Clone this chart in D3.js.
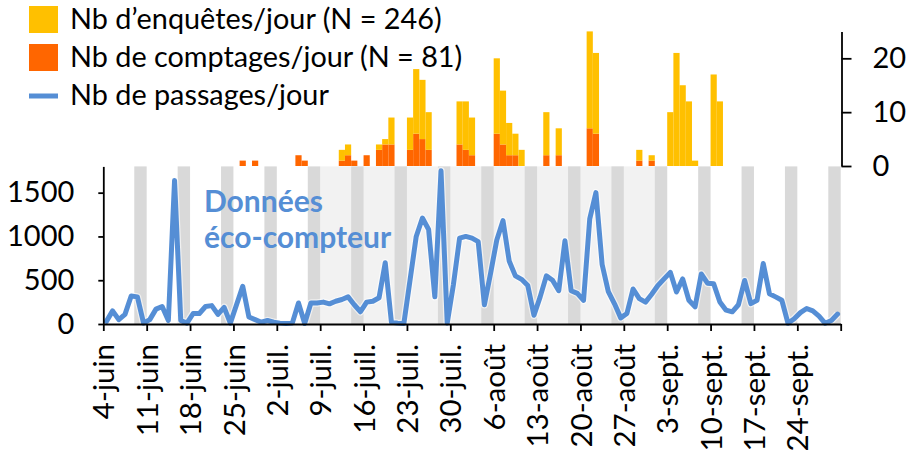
<!DOCTYPE html>
<html>
<head>
<meta charset="utf-8">
<script src="https://cdnjs.cloudflare.com/ajax/libs/d3/7.8.5/d3.min.js"></script>
<style>
  body { margin: 0; background: #fff; }
  svg { display: block; font-family: Lato, sans-serif; }
</style>
</head>
<body>
<div id="chart"></div>
<script>
/*
 * data
 */
const startDate = '2018-06-04'
const endDate = '2018-10-01'
const holidayStart = '2018-07-09'
const holidayEnd = '2018-09-03'

// eco-counter passages, one value per day from 4 June to 30 Sept
const passages = [
  30, 150, 50, 110, 320, 310, 10,
  50, 170, 200, 40, 1640, 40, 10,
  120, 120, 200, 210, 110, 190, 10,
  220, 430, 80, 50, 20, 40, 20,
  10, 5, 10, 240, 5, 240, 240,
  250, 230, 260, 280, 310, 220, 140,
  250, 260, 300, 700, 20, 10, 5,
  500, 1000, 1210, 1080, 310, 1750, 10,
  450, 980, 1000, 980, 940, 220, 580,
  960, 1180, 720, 550, 510, 440, 100,
  310, 550, 500, 380, 950, 380, 350,
  270, 1200, 1500, 680, 370, 230, 70,
  120, 400, 290, 250, 340, 440, 515,
  590, 365, 515, 271, 196, 572, 466,
  459, 252, 158, 139, 220, 497, 233,
  271, 690, 346, 310, 271, 8, 60,
  130, 177, 150, 90, 8, 40, 113
]

// survey days
const barDates = [
  '2018-06-26', '2018-06-28', '2018-07-05', '2018-07-06', '2018-07-12', '2018-07-13',
  '2018-07-14', '2018-07-16', '2018-07-18', '2018-07-19', '2018-07-20', '2018-07-23',
  '2018-07-24', '2018-07-25', '2018-07-26', '2018-07-31', '2018-08-01', '2018-08-02',
  '2018-08-06', '2018-08-07', '2018-08-08', '2018-08-09', '2018-08-10', '2018-08-14',
  '2018-08-16', '2018-08-21', '2018-08-22', '2018-08-29', '2018-08-31', '2018-09-03',
  '2018-09-04', '2018-09-05', '2018-09-06', '2018-09-07', '2018-09-10', '2018-09-11'
]
const comptages = [
  1, 1, 2, 1, 1, 2,
  1, 2, 3, 4, 4, 3,
  6, 5, 3, 4, 3, 2,
  6, 4, 2, 2, 0, 2,
  2, 7, 6, 1, 1, 0,
  0, 0, 0, 0, 0, 0
]
const enquetes = [
  0, 0, 0, 0, 2, 2,
  0, 0, 1, 1, 5, 6,
  12, 11, 7, 8, 9, 7,
  14, 10, 6, 4, 3, 8,
  5, 18, 15, 2, 1, 10,
  21, 15, 12, 1, 17, 12
]

const leftTicks = [0, 500, 1000, 1500]
const rightTicks = [0, 10, 20]
const dateLabels = [
  '4-juin', '11-juin', '18-juin', '25-juin', '2-juil.', '9-juil.', '16-juil.',
  '23-juil.', '30-juil.', '6-août', '13-août', '20-août', '27-août', '3-sept.',
  '10-sept.', '17-sept.', '24-sept.', ''
]
const legendLabels = [
  'Nb d\u2019enquêtes/jour (N = 246)',
  'Nb de comptages/jour (N = 81)',
  'Nb de passages/jour'
]
const noteLines = ['Données', 'éco-compteur']

const yellow = '#FFC000'
const orange = '#FF6600'
const blue = '#558ED5'

/*
 * scales
 */
const w = 909
const h = 451
const parseDate = d3.timeParse('%Y-%m-%d')
const day0 = parseDate(startDate)
const dayN = parseDate(endDate)

const x = d3.scaleTime()
  .domain([day0, dayN])
  .range([103.3, 840.7])

const yLine = d3.scaleLinear()
  .domain([0, 1800])
  .range([324, 166.4])

const yBar = d3.scaleLinear()
  .domain([0, 25])
  .range([166, 31.4])

const svg = d3.select('#chart')
  .append('svg')
  .attr('width', w)
  .attr('height', h)

/*
 * background bands
 */
svg.append('rect')
  .attr('x', x(parseDate(holidayStart)))
  .attr('y', yLine(1800))
  .attr('width', x(parseDate(holidayEnd)) - x(parseDate(holidayStart)))
  .attr('height', yLine(0) - yLine(1800))
  .style('fill', '#F2F2F2')

svg.append('g')
  .selectAll('rect')
  .data(d3.timeSaturday.range(day0, dayN))
  .enter()
  .append('rect')
  .attr('x', d => x(d))
  .attr('y', yLine(1800))
  .attr('width', d => x(d3.timeDay.offset(d, 2)) - x(d))
  .attr('height', yLine(0) - yLine(1800))
  .style('fill', '#D9D9D9')

/*
 * stacked bars
 */
const table = barDates.map((d, i) => ({
  date: parseDate(d),
  comptages: comptages[i],
  enquetes: enquetes[i]
}))
const stacked = d3.stack().keys(['comptages', 'enquetes'])(table)
const barColors = { comptages: orange, enquetes: yellow }

svg.append('g')
  .selectAll('g')
  .data(stacked)
  .enter()
  .append('g')
  .style('fill', s => barColors[s.key])
  .selectAll('rect')
  .data(s => s.filter(d => d[1] > d[0]))
  .enter()
  .append('rect')
  .attr('x', d => x(d.data.date))
  .attr('width', d => x(d3.timeDay.offset(d.data.date, 1)) - x(d.data.date))
  .attr('y', d => yBar(d[1]))
  .attr('height', d => yBar(d[0]) - yBar(d[1]))

/*
 * passages line
 */
const line = d3.line()
  .x((d, i) => x(d3.timeHour.offset(d3.timeDay.offset(day0, i), 12)))
  .y(d => yLine(d))

svg.append('path')
  .datum(passages)
  .attr('d', line)
  .style('fill', 'none')
  .style('stroke', '#fff')
  .style('stroke-opacity', 0.6)
  .style('stroke-width', 7.5)
  .style('stroke-linejoin', 'round')

svg.append('path')
  .datum(passages)
  .attr('d', line)
  .style('fill', 'none')
  .style('stroke', blue)
  .style('stroke-width', 5)
  .style('stroke-linejoin', 'round')
  .style('stroke-linecap', 'round')

/*
 * axes
 */
const styleAxis = size => g => {
  g.attr('font-family', 'Lato, sans-serif')
    .attr('font-size', size)
  g.selectAll('path, line')
    .style('stroke', '#000')
    .style('stroke-width', 1.8)
  g.selectAll('text').style('fill', '#000')
}

svg.append('g')
  .attr('transform', `translate(0, ${yLine(0)})`)
  .call(d3.axisBottom(x)
    .tickValues(d3.timeMonday.range(day0, d3.timeDay.offset(dayN, 1)))
    .tickFormat((d, i) => dateLabels[i])
    .tickSize(7)
    .tickSizeOuter(0))
  .call(styleAxis(29.5))
  .selectAll('text')
  .attr('transform', 'rotate(-90)')
  .attr('text-anchor', 'end')
  .attr('x', -20)
  .attr('y', 0)
  .attr('dy', '0.36em')

svg.append('g')
  .attr('transform', `translate(103.3, 0)`)
  .call(d3.axisLeft(yLine)
    .tickValues(leftTicks)
    .tickFormat(d3.format('d'))
    .tickSize(5)
    .tickSizeOuter(0)
    .tickPadding(24))
  .call(styleAxis(29))

svg.append('g')
  .attr('transform', `translate(841.5, 0)`)
  .call(d3.axisRight(yBar)
    .tickValues(rightTicks)
    .tickSize(10)
    .tickSizeOuter(0)
    .tickPadding(21))
  .call(styleAxis(29))

/*
 * legend and note
 */
const legend = svg.append('g')
  .attr('font-size', 28.8)

legend.append('rect')
  .attr('x', 29).attr('y', 6)
  .attr('width', 29).attr('height', 27)
  .style('fill', yellow)
legend.append('rect')
  .attr('x', 29).attr('y', 44)
  .attr('width', 29).attr('height', 27)
  .style('fill', orange)
legend.append('line')
  .attr('x1', 29).attr('x2', 58)
  .attr('y1', 96).attr('y2', 96)
  .style('stroke', blue)
  .style('stroke-width', 5)

legend.selectAll('text')
  .data(legendLabels)
  .enter()
  .append('text')
  .attr('x', 70)
  .attr('y', (d, i) => 29 + i * 38)
  .text(d => d)

svg.append('g')
  .selectAll('text')
  .data(noteLines)
  .enter()
  .append('text')
  .attr('x', 204)
  .attr('y', (d, i) => 212 + i * 36)
  .attr('font-size', 30)
  .attr('font-weight', 'bold')
  .style('fill', blue)
  .text(d => d)
</script>
</body>
</html>
